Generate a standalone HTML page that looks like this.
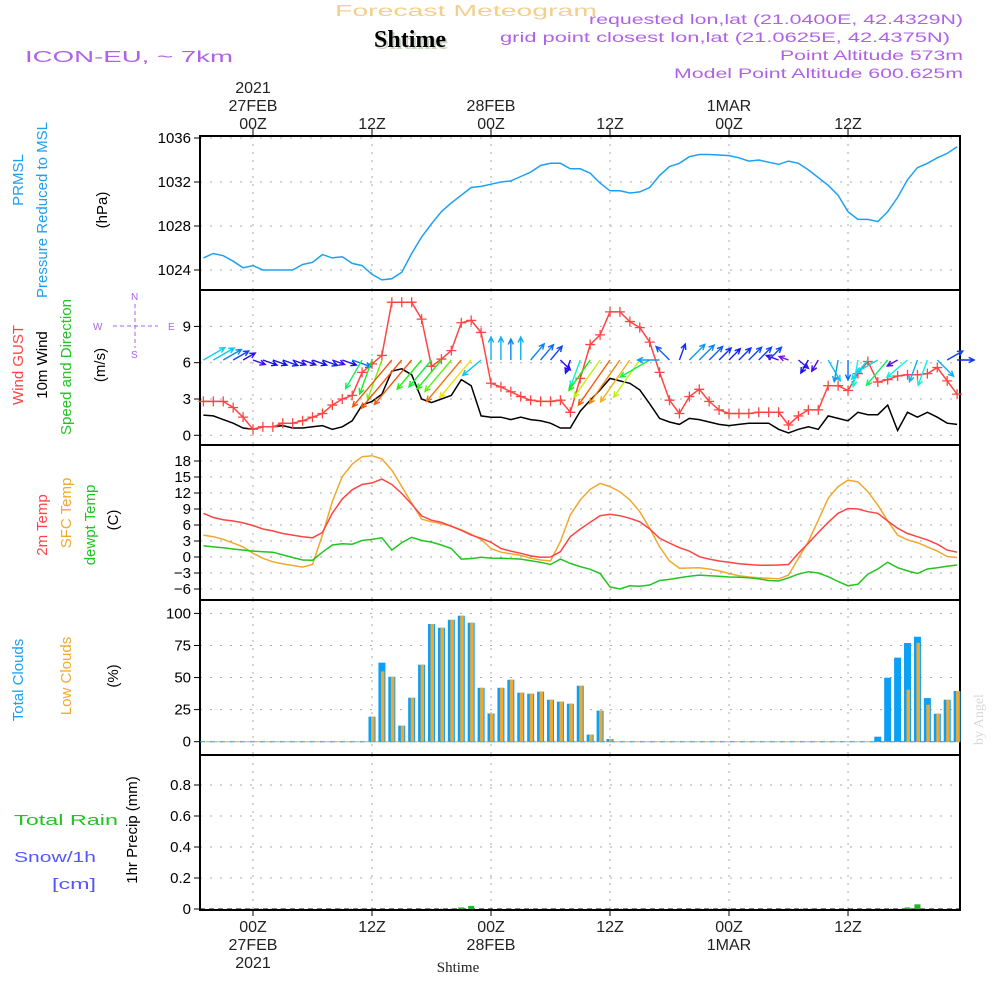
<!DOCTYPE html>
<html><head><meta charset="utf-8"><style>
html,body{margin:0;padding:0;background:#fff}
svg{display:block;font-family:"Liberation Sans",sans-serif}
</style></head><body>
<svg id="chart" width="1000" height="1000" viewBox="0 0 1000 1000" xmlns="http://www.w3.org/2000/svg">
<rect width="1000" height="1000" fill="#fff"/>
<text x="335" y="16" font-size="16" fill="#f3cf8c" textLength="262" lengthAdjust="spacingAndGlyphs">Forecast Meteogram</text>
<text x="410" y="47" font-size="24" font-weight="bold" font-family="Liberation Serif,serif" fill="#c8d4c4" text-anchor="middle" dx="2" dy="2">Shtime</text>
<text x="410" y="47" font-size="24" font-weight="bold" font-family="Liberation Serif,serif" fill="#000" text-anchor="middle">Shtime</text>
<text x="25" y="62" font-size="16" fill="#b062e6" textLength="208" lengthAdjust="spacingAndGlyphs">ICON-EU, ~ 7km</text>
<g fill="#b062e6" font-size="14" text-anchor="end">
<text x="963" y="24" textLength="374" lengthAdjust="spacingAndGlyphs">requested lon,lat (21.0400E, 42.4329N)</text>
<text x="950" y="42" textLength="450" lengthAdjust="spacingAndGlyphs">grid point closest lon,lat (21.0625E, 42.4375N)</text>
<text x="963" y="60" textLength="183" lengthAdjust="spacingAndGlyphs">Point Altitude 573m</text>
<text x="963" y="78" textLength="289" lengthAdjust="spacingAndGlyphs">Model Point Altitude 600.625m</text>
</g>
<text transform="translate(983,745) rotate(-90)" font-size="14" fill="#d8d8d8" font-family="Liberation Serif,serif">by Angel</text>

<g font-size="15">
<text transform="translate(23,180) rotate(-90)" text-anchor="middle" fill="#1ea0f0">PRMSL</text>
<text transform="translate(47,210) rotate(-90)" text-anchor="middle" fill="#1ea0f0">Pressure Reduced to MSL</text>
<text transform="translate(107,210) rotate(-90)" text-anchor="middle" fill="#000">(hPa)</text>
<text transform="translate(23,365) rotate(-90)" text-anchor="middle" fill="#ff4444">Wind GUST</text>
<text transform="translate(47,365) rotate(-90)" text-anchor="middle" fill="#000">10m Wind</text>
<text transform="translate(71,367) rotate(-90)" text-anchor="middle" fill="#22c422">Speed and Direction</text>
<text transform="translate(105,365) rotate(-90)" text-anchor="middle" fill="#000">(m/s)</text>
<text transform="translate(47,525) rotate(-90)" text-anchor="middle" fill="#ff4444">2m Temp</text>
<text transform="translate(71,513) rotate(-90)" text-anchor="middle" fill="#f0a830">SFC Temp</text>
<text transform="translate(95,525) rotate(-90)" text-anchor="middle" fill="#22c422">dewpt Temp</text>
<text transform="translate(118,520) rotate(-90)" text-anchor="middle" fill="#000">(C)</text>
<text transform="translate(23,680) rotate(-90)" text-anchor="middle" fill="#1ea0f0">Total Clouds</text>
<text transform="translate(71,676) rotate(-90)" text-anchor="middle" fill="#f0a830">Low Clouds</text>
<text transform="translate(118,676) rotate(-90)" text-anchor="middle" fill="#000">(%)</text>
<text transform="translate(137,830) rotate(-90)" text-anchor="middle" fill="#000">1hr Precip (mm)</text>
<text x="14" y="825" fill="#22c422" textLength="104" lengthAdjust="spacingAndGlyphs">Total   Rain</text>
<text x="14" y="862" fill="#5555ff" textLength="82" lengthAdjust="spacingAndGlyphs">Snow/1h</text>
<text x="52" y="889" fill="#5555ff" textLength="44" lengthAdjust="spacingAndGlyphs">[cm]</text>
</g>
<g fill="#b062e6" stroke="#b062e6" font-size="10">
<text x="131" y="300" stroke="none">N</text>
<text x="131" y="358" stroke="none">S</text>
<text x="93" y="330" stroke="none">W</text>
<text x="168" y="330" stroke="none">E</text>
<line x1="135" y1="304" x2="135" y2="348" stroke-dasharray="4,3"/>
<line x1="113" y1="326" x2="158" y2="326" stroke-dasharray="4,3"/>
</g>
<g id="plot"></g>
</svg>
<script>
// ---- data (hours relative to 00Z 27FEB) ----
const hours = [];
for (let h = -5; h <= 71; h++) hours.push(h);
const pressure = [1025.1,1025.5,1025.3,1024.8,1024.2,1024.4,1024.0,1024.0,1024.0,1024.0,1024.5,1024.7,1025.4,1025.1,1025.2,1024.6,1024.4,1023.6,1023.1,1023.2,1023.8,1025.5,1027.0,1028.2,1029.3,1030.1,1030.8,1031.5,1031.6,1031.8,1032.0,1032.1,1032.5,1032.9,1033.5,1033.7,1033.7,1033.2,1033.2,1032.8,1031.9,1031.2,1031.2,1031.0,1031.1,1031.5,1032.6,1033.4,1033.7,1034.3,1034.5,1034.5,1034.45,1034.4,1034.2,1033.9,1034.0,1033.8,1033.6,1033.9,1033.7,1033.1,1032.4,1031.7,1030.8,1029.3,1028.6,1028.6,1028.4,1029.3,1030.6,1032.2,1033.3,1033.7,1034.2,1034.6,1035.2];
const gust = [2.8,2.8,2.8,2.3,1.5,0.5,0.7,0.7,1.0,1.0,1.2,1.5,1.8,2.5,3.0,3.3,5.2,5.9,6.6,11.0,11.0,11.0,9.6,5.7,6.3,7.0,9.3,9.5,8.5,4.3,4.0,3.6,3.2,2.9,2.8,2.8,2.9,1.9,4.7,7.5,8.3,10.2,10.2,9.4,8.9,7.7,5.2,2.9,1.8,3.2,3.8,2.8,2.1,1.8,1.8,1.8,1.9,1.9,1.9,0.85,1.6,2.1,2.1,4.1,4.1,3.7,5.1,6.1,4.4,4.6,4.9,5.0,5.0,5.1,5.6,4.5,3.4];
const wind10 = [1.67,1.6,1.3,1.0,0.6,0.5,0.7,0.7,0.8,0.6,0.6,0.7,0.8,0.5,0.7,1.2,2.5,2.8,3.4,5.3,5.5,5.0,3.0,2.7,3.0,3.3,4.6,4.1,1.6,1.5,1.5,1.3,1.5,1.3,1.2,1.0,0.6,0.6,2.0,2.9,3.75,4.7,4.5,4.3,3.75,2.6,1.4,1.1,0.9,1.4,1.3,1.1,0.9,0.8,0.9,1.0,1.0,1.0,0.5,0.2,0.5,0.7,0.5,1.6,1.4,1.2,1.9,1.7,1.7,2.5,0.4,1.9,1.5,1.9,1.5,1.0,0.9];
const windDir = [60,60,60,60,60,110,110,110,110,110,110,110,110,110,110,110,210,200,200,220,220,220,220,220,220,220,220,220,230,0,0,0,0,40,40,40,135,200,200,215,215,215,215,215,215,240,270,315,20,45,45,45,45,45,45,45,45,45,290,290,130,210,210,150,190,180,190,220,240,220,240,230,200,200,135,60,90];
const temp2m = [8.2,7.4,7.0,6.75,6.4,5.9,5.25,4.9,4.4,4.1,3.8,3.6,4.6,8.2,10.9,12.6,13.6,13.9,14.6,13.6,11.9,9.9,7.7,6.9,6.5,5.75,5.0,4.1,3.5,2.75,1.6,1.1,0.7,0.2,-0.06,0,1.0,3.8,5.25,6.5,7.75,8.0,7.75,7.25,6.6,5.25,3.5,2.6,1.75,1.1,0.06,-0.4,-0.75,-1.0,-1.25,-1.4,-1.56,-1.56,-1.5,-1.4,0.7,2.6,4.6,6.5,8.2,9.1,9.0,8.5,8.2,6.75,5.4,4.4,3.8,3.2,2.4,1.3,0.9];
const tempSfc = [4.1,3.8,3.3,2.6,1.9,0.7,-0.25,-0.9,-1.3,-1.6,-1.9,-1.4,4.1,10.4,15.1,17.4,18.8,19.0,18.4,16.3,13.2,10.1,7.1,6.6,6.25,5.8,5.1,4.25,3.3,1.6,0.9,0.6,0.3,-0.25,-0.56,-0.75,2.9,7.9,10.7,12.7,13.8,13.2,12.25,10.7,8.5,5.4,1.9,-0.75,-2.1,-2.06,-2.0,-2.25,-2.6,-3.1,-3.5,-3.75,-3.9,-4.0,-4.1,-3.4,-0.25,2.9,6.9,11.0,13.2,14.4,14.1,12.25,9.75,6.75,4.1,3.2,2.7,1.9,1.1,0.1,-0.1];
const dewpt = [2.1,1.9,1.75,1.5,1.3,1.1,1.0,0.9,0.4,-0.1,-0.56,-0.6,0.9,2.25,2.5,2.4,3.1,3.3,3.6,1.3,2.7,3.7,3.1,2.8,2.25,1.6,-0.4,-0.3,-0.06,-0.2,-0.25,-0.3,-0.4,-0.7,-1.0,-1.4,-0.4,-1.2,-1.8,-2.3,-3.1,-5.6,-6.0,-5.4,-5.5,-5.25,-4.4,-4.2,-3.9,-3.6,-3.4,-3.5,-3.6,-3.75,-3.8,-3.9,-4.1,-4.4,-4.5,-3.9,-3.2,-2.75,-3.0,-3.7,-4.6,-5.4,-5.1,-3.2,-2.25,-1.0,-2.0,-2.6,-3.1,-2.25,-2.0,-1.75,-1.5];
const cloudHours = [12,13,14,15,16,17,18,19,20,21,22,23,24,25,26,27,28,29,30,31,32,33,34,35,36,63,64,65,66,67,68,69,70,71];
const totalClouds = [19.5,61.6,50.6,12.5,34.3,60,91.7,88.8,95,98.2,92.7,42,22,42,48.3,38.2,37.4,39,32.7,31.2,29.6,43.6,5.5,24.2,2.1,3.9,49.9,65.5,76.9,81.8,34,21.8,32.7,39.5];
const lowClouds = [19.5,54.8,50.6,12.5,34.3,60,91.7,88.8,95,98.2,92.7,42,22,42,48.3,38.2,37.4,39,32.7,31.2,29.6,43.6,5.5,24.2,2.1,0,0,0,40.5,77.1,28.8,21.8,32.7,39.5];
const precipHours = [21,22,66,67];
const precipVals = [0.01,0.02,0.01,0.03];
const pressTicks = [1024,1028,1032,1036];
const windTicks = [0,3,6,9];
const tempTicks = [-6,-3,0,3,6,9,12,15,18];
const cloudTicks = [0,25,50,75,100];
const precipTicks = [0,0.2,0.4,0.6,0.8];
const timeTicks = [0,12,24,36,48,60];
const topLabels = [["2021","27FEB","00Z"],["","","12Z"],["","28FEB","00Z"],["","","12Z"],["","1MAR","00Z"],["","","12Z"]];
const botLabels = [["00Z","27FEB","2021"],["12Z","",""],["00Z","28FEB",""],["12Z","",""],["00Z","1MAR",""],["12Z","",""]];

// ---- axes ----
const L = 200, R = 960;
const xH = h => 253 + h * 9.917;
const yP = v => 270 - (v - 1024) * 11;
const yW = v => 435.3 - v * 12.1;
const yT = v => 557 - v * 5.333;
const yC = v => 741.7 - v * 1.283;
const yR = v => 909 - v * 155;
const NS = "http://www.w3.org/2000/svg";
const plot = document.getElementById('plot');
function mk(tag, attrs, parent) {
  const e = document.createElementNS(NS, tag);
  for (const k in attrs) e.setAttribute(k, attrs[k]);
  (parent || plot).appendChild(e);
  return e;
}
const panels = [
  {name:'pressure', top:136, bot:290, ticks:pressTicks, y:yP, fmt:v=>v},
  {name:'wind', top:290, bot:445, ticks:windTicks, y:yW, fmt:v=>v},
  {name:'temperature', top:445, bot:600, ticks:tempTicks, y:yT, fmt:v=>v<0?'\u2212'+(-v):v},
  {name:'clouds', top:600, bot:755, ticks:cloudTicks, y:yC, fmt:v=>v},
  {name:'precip', top:755, bot:910, ticks:precipTicks, y:yR, fmt:v=>v===0?'0':v.toFixed(1)}
];
panels.forEach(p => {
  const g = mk('g', {});
  
  
  p.ticks.forEach(t => {
    const y = p.y(t);
    const gl = mk('line', {x1:L, x2:R, y1:y, y2:y, stroke:'#aaa', 'stroke-dasharray':'2,8'}, g);
    
    
    mk('line', {x1:L-6, x2:L, y1:y, y2:y, stroke:'#000'}, g);
    const tl = mk('text', {x:L-9, y:y+5, 'font-size':15, 'text-anchor':'end', fill:'#000'}, g);
    tl.textContent = p.fmt(t);
    
    
  });
  timeTicks.forEach(h => {
    const vl = mk('line', {x1:xH(h), x2:xH(h), y1:p.top, y2:p.bot, stroke:'#aaa', 'stroke-dasharray':'2,6'}, g);
    
    
  });
});
panels.forEach(p => {
  const f = mk('rect', {x:L, y:p.top, width:R-L, height:p.bot-p.top, fill:'none', stroke:'#000', 'stroke-width':2});
  
  
});
timeTicks.forEach((h, i) => {
  mk('line', {x1:xH(h), x2:xH(h), y1:129, y2:136, stroke:'#000'});
  mk('line', {x1:xH(h), x2:xH(h), y1:910, y2:916, stroke:'#000'});
  topLabels[i].forEach((s, j) => {
    if (!s) return;
    const t = mk('text', {x:xH(h), y:93 + j*18, 'font-size':16, 'text-anchor':'middle', fill:'#222'});
    t.textContent = s;
    
    
  });
  botLabels[i].forEach((s, j) => {
    if (!s) return;
    const t = mk('text', {x:xH(h), y:932 + j*18, 'font-size':16, 'text-anchor':'middle', fill:'#222'});
    t.textContent = s;
    
    
  });
});
const xl = mk('text', {x:458, y:972, 'font-size':15, 'text-anchor':'middle', fill:'#222', 'font-family':'Liberation Serif,serif'});
xl.textContent = 'Shtime';



function line(vals, yf, color, name, w) {
  const pts = hours.map((h, i) => xH(h).toFixed(1) + ',' + yf(vals[i]).toFixed(1)).join(' ');
  const pl = mk('polyline', {points:pts, fill:'none', stroke:color, 'stroke-width':w || 1.5});
  
  
  return pl;
}
line(pressure, yP, '#1ea0f0', 'pressure-line');
line(wind10, yW, '#000', 'wind-10m-line');
line(gust, yW, '#ff4444', 'wind-gust-line');
hours.forEach((h, i) => {
  const x = xH(h), y = yW(gust[i]);
  const m = mk('path', {d:`M${x-5},${y}H${x+5}M${x},${y-5}V${y+5}`, stroke:'#ff4444', 'stroke-width':1.3});
  
  
});
hours.forEach((h, i) => {
  const s = wind10[i];
  const len = 8 + 10 * s;
  const a = windDir[i] * Math.PI / 180;
  const dx = Math.sin(a), dy = -Math.cos(a);
  const hue = Math.max(20, 280 - 55 * s);
  const col = `hsl(${hue},90%,50%)`;
  const x0 = xH(h), y0 = 360;
  const x1 = x0 + dx * len, y1 = y0 + dy * len;
  const hl = 6, ang = 0.45;
  const bx = -dx, by = -dy;
  const p1x = x1 + hl * (bx * Math.cos(ang) - by * Math.sin(ang)), p1y = y1 + hl * (bx * Math.sin(ang) + by * Math.cos(ang));
  const p2x = x1 + hl * (bx * Math.cos(-ang) - by * Math.sin(-ang)), p2y = y1 + hl * (bx * Math.sin(-ang) + by * Math.cos(-ang));
  const ar = mk('path', {d:`M${x0},${y0}L${x1},${y1}M${p1x},${p1y}L${x1},${y1}L${p2x},${p2y}`, stroke:col, 'stroke-width':1.4, fill:'none'});
  
  
});
line(tempSfc, yT, '#f0a830', 'sfc-temp-line');
line(temp2m, yT, '#ff4444', '2m-temp-line');
line(dewpt, yT, '#22c422', 'dewpt-line');
mk('line', {x1:L, x2:R, y1:yC(0), y2:yC(0), stroke:'#1ea0f0', 'stroke-dasharray':'5,5'});
mk('line', {x1:L+5, x2:R, y1:yC(0), y2:yC(0), stroke:'#f0a830', 'stroke-dasharray':'5,5'});
cloudHours.forEach((h, i) => {
  const x = xH(h);
  const b = mk('rect', {x:x-3.5, y:yC(totalClouds[i]), width:7, height:yC(0)-yC(totalClouds[i]), fill:'#0aa0f5'});
  
  
  if (lowClouds[i] > 0) {
    const o = mk('rect', {x:x-1, y:yC(lowClouds[i]), width:3.5, height:yC(0)-yC(lowClouds[i]), fill:'#f0a830'});
    
    
  }
});
mk('line', {x1:L, x2:R, y1:yR(0), y2:yR(0), stroke:'#000', 'stroke-dasharray':'5,4'});
precipHours.forEach((h, i) => {
  const r = mk('rect', {x:xH(h)-3, y:yR(precipVals[i]), width:6, height:yR(0)-yR(precipVals[i]), fill:'#22b422'});
  
  
});
</script>
</body></html>
